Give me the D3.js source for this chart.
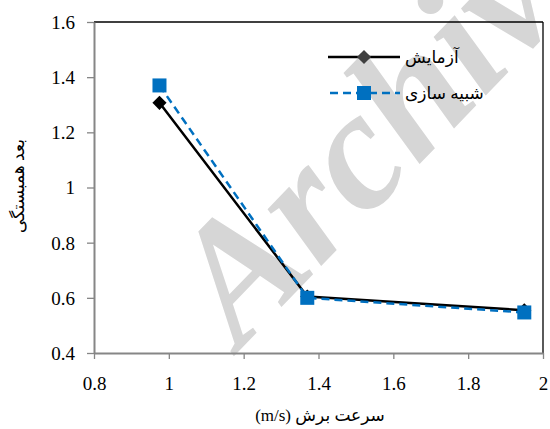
<!DOCTYPE html>
<html><head><meta charset="utf-8">
<script src="https://cdn.jsdelivr.net/npm/d3@7"></script>
<style>body{margin:0;background:#fff}svg{display:block}</style>
</head><body>
<svg id="c" width="550" height="429"></svg>
<script>
const xValues = [0.975, 1.37, 1.95];
const expValues = [1.307, 0.605, 0.555];
const simValues = [1.370, 0.600, 0.547];
const seriesNames = ["آزمایش", "شبیه سازی"];
const xTicks = [0.8, 1, 1.2, 1.4, 1.6, 1.8, 2];
const yTicks = [0.4, 0.6, 0.8, 1, 1.2, 1.4, 1.6];
const xTitle = "سرعت برش (m/s)";
const yTitle = "بعد همبستگی";
const watermark = "Archive";

const svg = d3.select("#c");
const L = 94, R = 543, T = 22, B = 353;
const x = d3.scaleLinear().domain([0.8, 2]).range([L, R]);
const y = d3.scaleLinear().domain([0.4, 1.6]).range([B, T]);
const serif = "'Liberation Serif','Times New Roman',serif";
const arab = "'Liberation Serif','DejaVu Sans','Noto Sans',sans-serif";
const blue = "#0070C0";

svg.append("text").attr("transform", "translate(240,350) rotate(-46)")
  .style("font-family", serif).style("font-weight", "bold").style("font-style", "italic")
  .style("font-size", "170px").attr("fill", "#d6d6d6").text(watermark);

svg.append("line").attr("x1", L).attr("x2", R).attr("y1", T).attr("y2", T).attr("stroke", "#000").attr("stroke-width", 1.3);
svg.append("line").attr("x1", R).attr("x2", R).attr("y1", T).attr("y2", B).attr("stroke", "#000").attr("stroke-width", 1.3);

const xa = svg.append("g").attr("transform", `translate(0,${B})`);
xa.call(d3.axisBottom(x).tickValues(xTicks).tickSize(6).tickSizeOuter(0));
const ya = svg.append("g").attr("transform", `translate(${L},0)`);
ya.call(d3.axisLeft(y).tickValues(yTicks).tickSize(7).tickSizeOuter(0));
[xa, ya].forEach(a => {
  a.select(".domain").attr("stroke", "#868686").attr("stroke-width", 2);
  a.selectAll(".tick line").attr("stroke", "#868686").attr("stroke-width", 1.3);
  a.selectAll(".tick text").remove();
});
xa.selectAll(".tick").append("text").attr("y", 37).attr("text-anchor", "middle")
  .style("font-family", serif).style("font-size", "19px").attr("fill", "#000").text(d => String(d));
ya.selectAll(".tick").append("text").attr("x", -19).attr("dy", "0.34em").attr("text-anchor", "end")
  .style("font-family", serif).style("font-size", "19px").attr("fill", "#000").text(d => String(d));

svg.append("text").attr("x", 320).attr("y", 421).attr("text-anchor", "middle")
  .attr("direction", "rtl").style("font-family", arab).style("font-size", "17px").text(xTitle);
svg.append("text").attr("transform", "translate(24,186) rotate(-90)").attr("text-anchor", "middle")
  .attr("direction", "rtl").style("font-family", arab).style("font-size", "17px").text(yTitle);

const line = d3.line().x(d => x(d[0])).y(d => y(d[1]));
const expData = xValues.map((v, i) => [v, expValues[i]]);
const simData = xValues.map((v, i) => [v, simValues[i]]);
svg.append("path").datum(expData).attr("d", line).attr("fill", "none").attr("stroke", "#000").attr("stroke-width", 2.5);
svg.append("path").datum(simData).attr("d", line).attr("fill", "none").attr("stroke", blue).attr("stroke-width", 2.5).attr("stroke-dasharray", "8,5");

const diamond = d3.symbol().type(d3.symbolSquare).size(100);
svg.selectAll(".dm").data(expData).join("path").attr("d", diamond)
  .attr("transform", d => `translate(${x(d[0])},${y(d[1])}) rotate(45)`).attr("fill", "#000");
svg.selectAll(".sq").data(simData).join("rect")
  .attr("x", d => x(d[0]) - 7).attr("y", d => y(d[1]) - 7).attr("width", 14).attr("height", 14).attr("fill", blue);

const lg = svg.append("g");
lg.append("line").attr("x1", 328).attr("x2", 400).attr("y1", 57).attr("y2", 57).attr("stroke", "#000").attr("stroke-width", 2.5);
lg.append("path").attr("d", diamond).attr("transform", "translate(364,57) rotate(45)").attr("fill", "#404040");
lg.append("line").attr("x1", 328).attr("x2", 400).attr("y1", 93).attr("y2", 93).attr("stroke", blue).attr("stroke-width", 2.5).attr("stroke-dasharray", "8,5").attr("stroke-dashoffset", -2);
lg.append("rect").attr("x", 357).attr("y", 86).attr("width", 14).attr("height", 14).attr("fill", blue);
lg.append("text").attr("x", 405).attr("y", 63).style("font-family", arab).style("font-size", "17px").text(seriesNames[0]);
lg.append("text").attr("x", 405).attr("y", 99).style("font-family", arab).style("font-size", "17px").text(seriesNames[1]);
</script>
</body></html>
